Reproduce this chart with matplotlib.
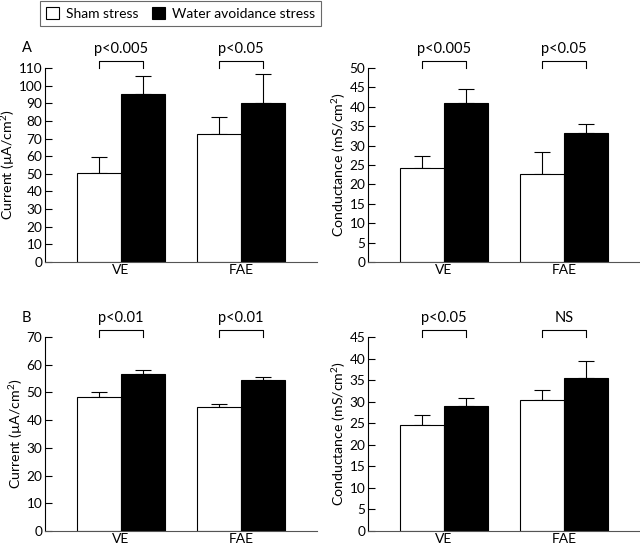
import matplotlib
matplotlib.use("Agg")
import matplotlib.pyplot as plt
import matplotlib.transforms as mtransforms
from matplotlib.patches import Patch

plt.rcParams["font.family"] = ["Lato", "DejaVu Sans"]
plt.rcParams["font.size"] = 10
plt.rcParams["mathtext.fontset"] = "custom"
plt.rcParams["mathtext.rm"] = "Lato"

groups = ["VE", "FAE"]
series = ["Sham stress", "Water avoidance stress"]

# panel A: current and conductance
a_current_sham = [50.2, 72.6]
a_current_sham_err = [9.5, 9.9]
a_current_was = [95.2, 89.9]
a_current_was_err = [10.0, 16.5]
a_current_p = ["p<0.005", "p<0.05"]

a_cond_sham = [24.2, 22.8]
a_cond_sham_err = [3.2, 5.6]
a_cond_was = [41.0, 33.2]
a_cond_was_err = [3.5, 2.4]
a_cond_p = ["p<0.005", "p<0.05"]

# panel B
b_current_sham = [48.4, 44.6]
b_current_sham_err = [1.9, 1.2]
b_current_was = [56.8, 54.6]
b_current_was_err = [1.4, 1.1]
b_current_p = ["p<0.01", "p<0.01"]

b_cond_sham = [24.5, 30.3]
b_cond_sham_err = [2.3, 2.5]
b_cond_was = [28.9, 35.4]
b_cond_was_err = [1.9, 4.0]
b_cond_p = ["p<0.05", "NS"]

current_label = "Current (\u00b5A/cm$^2$)"
cond_label = "Conductance (mS/cm$^2$)"

W, H = 640, 548
fig = plt.figure(figsize=(W / 100, H / 100), dpi=100)

bar_w = 0.367


def panel(rect, sham, sham_err, was, was_err, pvals, ymax, ystep, ylabel):
    ax = fig.add_axes(rect)
    x = list(range(len(groups)))
    xs = [i - bar_w / 2 for i in x]
    xw = [i + bar_w / 2 for i in x]
    ax.bar(xs, sham, bar_w, color="white", edgecolor="black", linewidth=0.8, zorder=2)
    ax.bar(xw, was, bar_w, color="black", edgecolor="black", linewidth=0.8, zorder=2)
    ax.errorbar(xs, sham, yerr=[[0] * len(sham), sham_err], fmt="none",
                ecolor="black", elinewidth=0.8, capsize=5.5, capthick=0.8, zorder=1)
    ax.errorbar(xw, was, yerr=[[0] * len(was), was_err], fmt="none",
                ecolor="black", elinewidth=0.8, capsize=5.5, capthick=0.8, zorder=1)
    ax.set_xlim(-0.633, 1.633)
    ax.set_ylim(0, ymax)
    ax.set_yticks(range(0, ymax + 1, ystep))
    ax.set_xticks(x)
    ax.set_xticklabels(groups, fontsize=10)
    ax.tick_params(axis="x", length=0, pad=1.5)
    ax.tick_params(axis="y", direction="in", length=5, width=0.8, pad=2,
                   labelsize=9.8)
    for s in ["top", "right"]:
        ax.spines[s].set_visible(False)
    ax.spines["left"].set_linewidth(0.8)
    ax.spines["bottom"].set_linewidth(0.8)
    ax.spines["bottom"].set_color("#555555")
    ax.set_ylabel(ylabel, fontsize=10.2, labelpad=1)
    trans = mtransforms.blended_transform_factory(ax.transData, ax.transAxes)
    for i, p in enumerate(pvals):
        x0, x1 = xs[i], xw[i]
        ax.plot([x0, x0, x1, x1], [1.0, 1.037, 1.037, 1.0], color="black",
                lw=0.8, transform=trans, clip_on=False)
        ax.text((x0 + x1) / 2, 1.06, p, transform=trans, ha="center",
                va="bottom", fontsize=10.5)
    return ax


aw = 272 / W
ah = 194 / H
panel([45 / W, 1 - 262 / H, aw, ah], a_current_sham, a_current_sham_err,
      a_current_was, a_current_was_err, a_current_p, 110, 10, current_label)
panel([368 / W, 1 - 262 / H, aw, ah], a_cond_sham, a_cond_sham_err,
      a_cond_was, a_cond_was_err, a_cond_p, 50, 5, cond_label)
panel([45 / W, 1 - 531 / H, aw, ah], b_current_sham, b_current_sham_err,
      b_current_was, b_current_was_err, b_current_p, 70, 10, current_label)
panel([368 / W, 1 - 531 / H, aw, ah], b_cond_sham, b_cond_sham_err,
      b_cond_was, b_cond_was_err, b_cond_p, 45, 5, cond_label)

fig.text(22 / W, 1 - 48 / H, "A", fontsize=10.5, va="center", ha="left")
fig.text(22 / W, 1 - 318 / H, "B", fontsize=10.5, va="center", ha="left")

handles = [Patch(facecolor="white", edgecolor="black", linewidth=0.8),
           Patch(facecolor="black", edgecolor="black", linewidth=0.8)]
leg = fig.legend(handles, series, loc="lower left", bbox_to_anchor=(40 / W, 1 - 26 / H),
                 ncol=2, frameon=True, fancybox=False, fontsize=10,
                 handlelength=0.9, handleheight=0.9, handletextpad=0.5,
                 columnspacing=1.0, borderpad=0.45, borderaxespad=0)
leg.get_frame().set_edgecolor("#444444")
leg.get_frame().set_linewidth(0.8)

fig.savefig("out.png", dpi=100)
